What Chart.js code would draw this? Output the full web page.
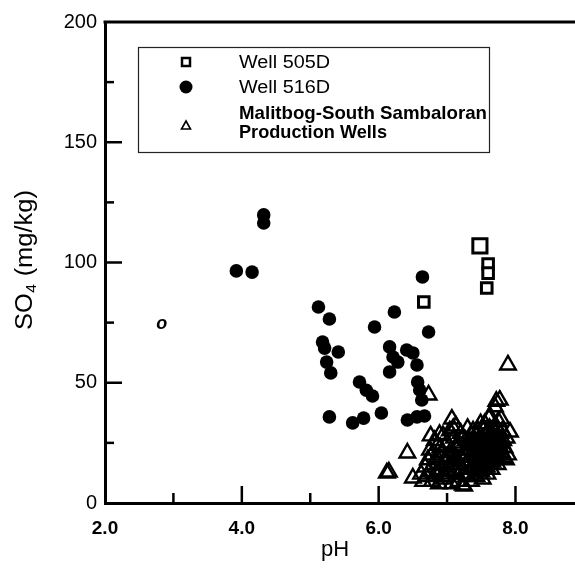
<!DOCTYPE html>
<html lang="en">
<head>
<meta charset="UTF-8">
<title>SO4 vs pH</title>
<script src="https://cdn.jsdelivr.net/npm/chart.js"></script>
<style>
  body { margin: 0; background: #fff; }
  #wrap { width: 575px; height: 569px; }
</style>
</head>
<body>
<div id="wrap"><canvas id="chart" width="575" height="569"></canvas></div>
<script>
// --- data ---
const well505pH  = [7.48, 7.60, 7.60, 7.58, 6.66];
const well505SO4 = [106.9, 99.4, 95.6, 89.4, 83.6];

const well516pH  = [4.32, 4.32, 3.92, 4.15, 5.12, 5.28, 6.23, 5.94, 6.73, 5.18,
                    5.21, 5.41, 5.24, 5.30, 6.16, 6.21, 6.28, 6.41, 6.50, 6.56,
                    6.16, 5.72, 5.82, 5.91, 6.57, 6.60, 6.63, 5.28, 5.62, 5.78,
                    6.04, 6.42, 6.56, 6.67, 6.64];
const well516SO4 = [119.8, 116.4, 96.5, 96.0, 81.5, 76.5, 79.4, 73.2, 71.1, 66.9,
                    64.4, 62.8, 58.6, 54.1, 64.9, 60.7, 58.6, 63.6, 62.4, 57.4,
                    54.5, 50.3, 46.9, 44.5, 50.3, 47.0, 42.8, 35.8, 33.3, 35.3,
                    37.4, 34.5, 35.8, 36.2, 94.0];

const prodPH  = [7.89, 7.72, 7.77, 7.61, 7.92, 7.89, 7.07, 6.76, 6.89, 6.42,
                 6.12, 6.15, 6.50, 6.73, 7.23,
                 6.62, 6.65, 6.68, 6.70, 6.72, 6.74, 6.75, 6.78, 6.80, 6.82,
                 6.83, 6.85, 6.88, 6.90, 6.92, 6.94, 6.95, 6.97,
                 7.00, 7.02, 7.04, 7.05, 7.07, 7.08, 7.10, 7.12, 7.13, 7.15,
                 7.17, 7.18, 7.20, 7.22, 7.24, 7.25, 7.27, 7.28, 7.30, 7.31,
                 7.33, 7.35, 7.36, 7.38, 7.40,
                 7.42, 7.43, 7.45, 7.46, 7.48, 7.50, 7.51, 7.53, 7.55, 7.56,
                 7.58, 7.60, 7.61, 7.63, 7.64, 7.66, 7.68, 7.69, 7.70, 7.72,
                 7.73, 7.75, 7.76, 7.78, 7.80, 7.82, 7.84, 7.86,
                 7.35, 7.38, 7.40, 7.44, 7.47, 7.49, 7.52, 7.54, 7.57, 7.59,
                 7.62, 7.65, 7.67, 7.71, 7.74, 7.77, 7.79, 7.81, 7.83, 7.87,
                 7.70, 7.60, 7.52, 7.45, 7.66,
                 6.78, 6.86, 6.98, 7.03, 7.09, 7.14, 7.19, 7.23, 7.26, 7.29,
                 7.32, 7.34,
                 7.37, 7.41, 7.43, 7.46, 7.50, 7.53, 7.56, 7.58, 7.62, 7.64,
                 7.68, 7.71, 7.73, 7.76, 7.80, 7.55, 7.63, 7.69, 7.48, 7.39,
                 7.06, 7.11, 7.16, 7.21, 7.27, 6.93, 7.01, 6.88];
const prodSO4 = [57.4, 42.3, 42.8, 35.3, 29.5, 20.0, 34.9, 27.9, 28.5, 20.8,
                 12.5, 12.9, 10.4, 44.9, 7.5,
                 12, 9, 15, 11, 18, 13, 22, 9, 16, 26,
                 12, 19, 8, 23, 14, 28, 10, 18,
                 25, 12, 30, 16, 8, 21, 27, 13, 32, 18,
                 9, 24, 29, 14, 20, 7, 26, 11, 31, 17,
                 22, 9, 28, 14, 19,
                 25, 11, 30, 16, 21, 13, 27, 18, 33, 23,
                 15, 29, 20, 36, 25, 17, 31, 22, 40, 27,
                 19, 34, 24, 29, 21, 26, 23, 18,
                 24, 30, 12, 19, 26, 33, 10, 22, 28, 12,
                 31, 14, 26, 32, 16, 20, 35, 30, 19, 27,
                 24, 18, 16, 23, 21,
                 20, 24, 11, 19, 31, 23, 16, 27, 12, 20,
                 26, 14,
                 21, 17, 28, 13, 24, 30, 19, 25, 22, 28,
                 18, 29, 23, 26, 25, 15, 17, 20, 18, 15,
                 22, 17, 25, 19, 22, 21, 15, 13];

const legendLabels = ['Well 505D', 'Well 516D', 'Malitbog-South Sambaloran', 'Production Wells'];

function toPoints(xs, ys) {
    return xs.map((v, i) => ({ x: v, y: ys[i] }));
}

// draw text squeezed/stretched to a given width (scan fonts are condensed)
function fitText(ctx, text, x, y, width, font) {
    ctx.save();
    ctx.font = font;
    const w = ctx.measureText(text).width;
    ctx.translate(x, y);
    ctx.scale(width / w, 1);
    ctx.fillText(text, 0, 0);
    ctx.restore();
}

const decorPlugin = {
    id: 'decor',
    afterDraw(chart) {
        const { ctx, chartArea: a, scales: { x, y } } = chart;
        ctx.save();
        ctx.strokeStyle = '#000';
        ctx.fillStyle = '#000';
        ctx.lineCap = 'butt';

        // top frame line
        ctx.lineWidth = 3;
        ctx.beginPath();
        ctx.moveTo(a.left - 1.5, a.top);
        ctx.lineTo(a.right, a.top);
        ctx.stroke();

        // inward tick marks
        ctx.lineWidth = 2.5;
        x.ticks.forEach(t => {
            if (t.value <= x.min) return;
            const px = x.getPixelForValue(t.value);
            const len = t.value % 2 === 0 ? 17 : 10;
            ctx.beginPath();
            ctx.moveTo(px, a.bottom);
            ctx.lineTo(px, a.bottom - len);
            ctx.stroke();
        });
        y.ticks.forEach(t => {
            if (t.value <= y.min || t.value >= y.max) return;
            const py = y.getPixelForValue(t.value);
            const len = t.value % 50 === 0 ? 17 : 9;
            ctx.beginPath();
            ctx.moveTo(a.left, py);
            ctx.lineTo(a.left + len, py);
            ctx.stroke();
        });

        // legend box
        ctx.lineWidth = 1.2;
        ctx.strokeStyle = '#222';
        ctx.strokeRect(138.5, 47.5, 351, 105);
        ctx.strokeStyle = '#000';

        // legend symbols
        ctx.lineWidth = 2.5;
        ctx.strokeRect(182, 58, 8, 8);
        ctx.beginPath();
        ctx.arc(186, 87, 6.5, 0, Math.PI * 2);
        ctx.fill();
        ctx.lineWidth = 1.6;
        ctx.beginPath();
        ctx.moveTo(186, 121);
        ctx.lineTo(190.5, 129);
        ctx.lineTo(181.5, 129);
        ctx.closePath();
        ctx.stroke();

        // legend text
        ctx.textBaseline = 'middle';
        ctx.textAlign = 'left';
        fitText(ctx, legendLabels[0], 239, 63, 91, '18px "Liberation Sans", Arial, sans-serif');
        fitText(ctx, legendLabels[1], 239, 88, 91, '18px "Liberation Sans", Arial, sans-serif');
        fitText(ctx, legendLabels[2], 239, 114, 248, 'bold 19px "Liberation Sans", Arial, sans-serif');
        fitText(ctx, legendLabels[3], 239, 133, 148, 'bold 19px "Liberation Sans", Arial, sans-serif');

        // stray italic "o" in the plot
        ctx.font = 'italic bold 18px "Liberation Sans", Arial, sans-serif';
        ctx.textAlign = 'center';
        ctx.fillText('o', x.getPixelForValue(2.83), y.getPixelForValue(74.5));

        // x title
        ctx.font = '22px "Liberation Sans", Arial, sans-serif';
        ctx.fillText('pH', 335, 550);

        // y title with subscript, stretched to the original length
        ctx.save();
        ctx.translate(26, 260);
        ctx.rotate(-Math.PI / 2);
        const big = '23px "Liberation Sans", Arial, sans-serif';
        const small = '14px "Liberation Sans", Arial, sans-serif';
        ctx.font = big;
        const w1 = ctx.measureText('SO').width;
        const w3 = ctx.measureText(' (mg/kg)').width;
        ctx.font = small;
        const w2 = ctx.measureText('4').width + 1;
        const total = w1 + w2 + w3;
        ctx.scale(140 / total, 1);
        let cx = -total / 2;
        ctx.textAlign = 'left';
        ctx.font = big;
        ctx.fillText('SO', cx, 0);
        cx += w1;
        ctx.font = small;
        ctx.fillText('4', cx + 0.5, 6);
        cx += w2;
        ctx.font = big;
        ctx.fillText(' (mg/kg)', cx, 0);
        ctx.restore();

        ctx.restore();
    }
};

new Chart(document.getElementById('chart'), {
    type: 'scatter',
    data: {
        datasets: [
            {
                label: 'Well 505D',
                data: toPoints(well505pH, well505SO4),
                pointStyle: 'rect',
                pointRadius: c => (c.dataIndex === 0 ? 10 : 7.5),
                borderColor: '#000',
                backgroundColor: '#fff',
                borderWidth: 3
            },
            {
                label: 'Well 516D',
                data: toPoints(well516pH, well516SO4),
                pointStyle: 'circle',
                pointRadius: 6.8,
                borderColor: '#000',
                backgroundColor: '#000',
                borderWidth: 0
            },
            {
                label: 'Malitbog-South Sambaloran Production Wells',
                data: toPoints(prodPH, prodSO4),
                pointStyle: 'triangle',
                pointRadius: 9,
                borderColor: '#000',
                backgroundColor: 'rgba(0,0,0,0)',
                borderWidth: 2.4
            }
        ]
    },
    options: {
        responsive: false,
        animation: false,
        events: [],
        layout: { autoPadding: false, padding: { top: 22, left: 0, right: 0, bottom: 0 } },
        plugins: { legend: { display: false }, tooltip: { enabled: false } },
        scales: {
            x: {
                type: 'linear',
                min: 2,
                max: 8.87,
                afterFit: s => { s.height = 66; s.paddingRight = 0; s.paddingLeft = 0; },
                grid: { display: false, drawTicks: false },
                border: { display: true, color: '#000', width: 3 },
                ticks: {
                    stepSize: 1,
                    includeBounds: false,
                    autoSkip: false,
                    maxRotation: 0,
                    padding: 14,
                    color: '#000',
                    font: { family: '"Liberation Sans", Arial, sans-serif', size: 19, weight: 'bold' },
                    callback: v => (v % 2 === 0 ? v.toFixed(1) : '')
                }
            },
            y: {
                type: 'linear',
                min: 0,
                max: 200,
                afterFit: s => { s.width = 105; },
                grid: { display: false, drawTicks: false },
                border: { display: true, color: '#000', width: 3 },
                ticks: {
                    stepSize: 25,
                    autoSkip: false,
                    padding: 8,
                    color: '#000',
                    font: { family: '"Liberation Sans", Arial, sans-serif', size: 20 },
                    callback: v => (v % 50 === 0 ? String(v) : '')
                }
            }
        }
    },
    plugins: [decorPlugin]
});
</script>
</body>
</html>
